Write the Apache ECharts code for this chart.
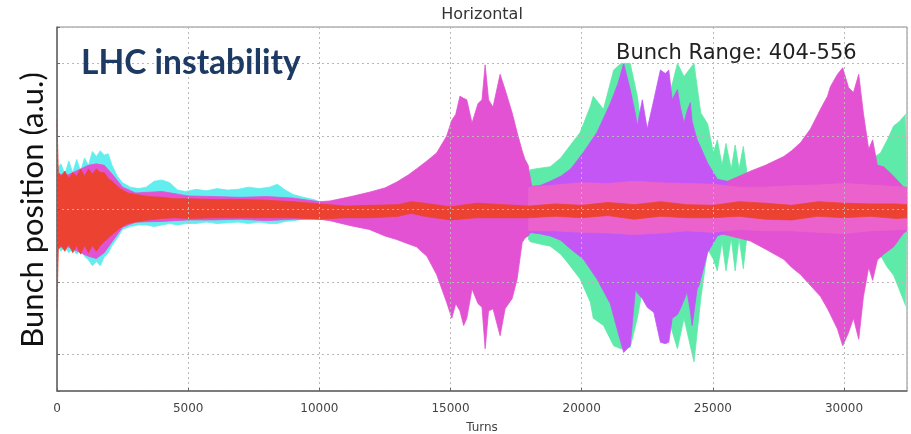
<!DOCTYPE html>
<html>
<head>
<meta charset="utf-8">
<script src="https://cdn.jsdelivr.net/npm/echarts@6/dist/echarts.min.js"></script>
<style>html,body{margin:0;padding:0;background:#fff;}#chart{width:911px;height:434px;}</style>
</head>
<body>
<div id="chart"></div>
<script>
// ---- data (turns, envelope top/bottom in a.u.) ----
var xTicks = [0, 5000, 10000, 15000, 20000, 25000, 30000];

var cyanTurns = [0,150,300,450,600,750,900,1050,1200,1350,1500,1650,1800,1950,2100,2300,2500,2800,3100,3400,3700,4000,4300,4600,4900,5300,5700,6100,6500,6900,7300,7700,8100,8400,8700,9000,9400,9800,10000];
var cyanTop = [0.55,0.62,0.48,0.66,0.5,0.68,0.52,0.7,0.6,0.79,0.72,0.8,0.74,0.76,0.6,0.45,0.36,0.3,0.28,0.3,0.38,0.4,0.36,0.26,0.24,0.27,0.25,0.28,0.26,0.27,0.3,0.28,0.3,0.34,0.26,0.2,0.16,0.13,0.1];
var cyanBot = [-0.5,-0.58,-0.52,-0.6,-0.55,-0.62,-0.56,-0.65,-0.7,-0.78,-0.72,-0.78,-0.66,-0.6,-0.5,-0.4,-0.28,-0.24,-0.22,-0.22,-0.24,-0.22,-0.2,-0.22,-0.2,-0.2,-0.18,-0.2,-0.19,-0.18,-0.2,-0.18,-0.2,-0.2,-0.17,-0.16,-0.14,-0.13,-0.1];

var greenTurns = [17960,18040,18400,18800,19200,19450,19940,20330,20440,20830,21220,21500,21850,22120,22370,22800,23300,23650,23900,24280,24540,24800,25020,25170,25350,25500,25700,25850,26000,26160,26300,26400,28000,30900,31100,31390,31650,31890,32100,32350,32400];
var greenTop = [0.31,0.54,0.56,0.58,0.7,0.82,1.05,1.41,1.55,1.37,1.91,2.0,2.0,1.55,0.9,0.9,1.5,2.0,1.82,2.0,1.32,1.17,0.77,0.95,0.6,0.9,0.55,0.88,0.55,0.86,0.5,0.45,null,0.6,0.7,0.77,0.95,1.14,1.2,1.3,1.3];
var greenBot = [-0.41,-0.45,-0.48,-0.51,-0.62,-0.73,-0.96,-1.28,-1.5,-1.6,-1.88,-1.92,-1.9,-1.5,-1.0,-1.0,-1.5,-1.92,-1.5,-2.1,-1.23,-0.55,-0.69,-0.85,-0.45,-0.85,-0.4,-0.85,-0.4,-0.82,-0.37,-0.35,null,-0.5,-0.58,-0.64,-0.8,-0.91,-1.1,-1.33,-1.35];

var magentaTurns = [0,300,600,900,1200,1500,1800,2100,2500,3000,4000,5000,6000,7000,8000,9000,10000,10400,11200,11900,12500,12950,13400,13700,14100,14470,14850,15050,15200,15360,15500,15620,15820,16050,16200,16320,16450,16620,16890,17080,17350,17540,17730,17840,17960,18100,21000,25300,25550,26000,26430,27000,27700,28000,28340,28720,29100,29370,29480,29750,29950,30170,30360,30560,30740,30940,31090,31270,31510,31890,32270,32400];
var magentaTop = [0.5,0.45,0.5,0.55,0.6,0.62,0.6,0.48,0.3,0.22,0.24,0.18,0.17,0.16,0.17,0.15,0.1,0.11,0.17,0.23,0.29,0.37,0.47,0.55,0.66,0.77,1.0,1.22,1.3,1.55,1.52,1.5,1.18,1.45,1.5,1.98,1.5,1.4,1.85,1.64,1.32,1.05,0.8,0.68,0.6,0.3,0.3,0.36,0.38,0.45,0.52,0.6,0.72,0.8,0.91,1.1,1.37,1.55,1.68,1.85,1.94,1.67,1.6,1.85,1.31,0.82,0.95,0.6,0.58,0.45,0.3,0.28];
var magentaBot = [-0.55,-0.5,-0.55,-0.6,-0.65,-0.68,-0.6,-0.45,-0.25,-0.18,-0.17,-0.15,-0.15,-0.14,-0.16,-0.14,-0.14,-0.16,-0.23,-0.28,-0.37,-0.42,-0.48,-0.52,-0.65,-0.9,-1.28,-1.5,-1.3,-1.4,-1.6,-1.5,-1.1,-1.3,-1.35,-1.92,-1.4,-1.37,-1.74,-1.37,-1.23,-0.96,-0.46,-0.4,-0.37,-0.3,-0.3,-0.34,-0.36,-0.4,-0.44,-0.55,-0.69,-0.8,-0.9,-1.05,-1.2,-1.37,-1.45,-1.65,-1.88,-1.7,-1.5,-1.79,-1.2,-0.8,-0.98,-0.7,-0.62,-0.52,-0.33,-0.3];

var purpleTurns = [17960,18400,18800,19200,19580,20070,20580,21090,21390,21600,21850,22050,22120,22310,22500,22750,23000,23190,23320,23450,23650,23760,23900,24020,24140,24210,24400,24470,24800,25170,25550];
var purpleTop = [0.31,0.32,0.38,0.45,0.55,0.78,1.05,1.45,1.73,2.0,1.64,1.3,1.14,1.5,1.1,1.5,1.91,1.86,1.91,1.5,1.64,1.4,1.18,1.35,1.46,1.2,0.95,0.9,0.63,0.41,0.38];
var purpleBot = [-0.32,-0.34,-0.37,-0.43,-0.55,-0.69,-0.96,-1.3,-1.7,-1.97,-1.88,-1.1,-1.15,-1.23,-1.35,-1.42,-1.83,-1.85,-1.83,-1.5,-1.45,-1.37,-1.25,-1.14,-1.4,-1.6,-1.1,-1.05,-0.6,-0.37,-0.32];

var pinkTurns = [17960,19000,20000,21000,22000,23000,24000,25000,26000,27000,28000,29000,30000,31000,32400];
var pinkTop = [0.3,0.33,0.36,0.35,0.38,0.36,0.35,0.34,0.3,0.3,0.32,0.33,0.35,0.33,0.3];
var pinkBot = [-0.3,-0.3,-0.32,-0.33,-0.35,-0.33,-0.3,-0.32,-0.28,-0.3,-0.3,-0.32,-0.34,-0.3,-0.28];

var redTurns = [0,50,150,300,450,600,750,900,1050,1200,1350,1500,1650,1800,1950,2100,2400,2700,3000,3500,4000,4500,5000,6000,7000,8000,9000,10000,11000,12000,13000,13500,14000,15000,16000,17000,18000,19000,20000,21000,22000,23000,24000,25000,26000,27000,28000,29000,30000,31000,32000,32400];
var redTop = [1.23,0.5,0.45,0.52,0.42,0.5,0.45,0.55,0.45,0.55,0.48,0.55,0.5,0.5,0.42,0.38,0.28,0.22,0.2,0.17,0.16,0.14,0.14,0.13,0.13,0.12,0.1,0.07,0.04,0.05,0.06,0.1,0.08,0.03,0.08,0.06,0.04,0.07,0.05,0.09,0.06,0.1,0.06,0.05,0.1,0.08,0.05,0.1,0.08,0.07,0.07,0.06];
var redBot = [-1.37,-0.55,-0.5,-0.58,-0.48,-0.6,-0.5,-0.62,-0.5,-0.6,-0.5,-0.58,-0.5,-0.45,-0.4,-0.35,-0.26,-0.2,-0.18,-0.15,-0.13,-0.12,-0.13,-0.12,-0.12,-0.12,-0.12,-0.14,-0.12,-0.12,-0.1,-0.06,-0.1,-0.15,-0.12,-0.12,-0.12,-0.1,-0.12,-0.09,-0.14,-0.1,-0.12,-0.12,-0.1,-0.14,-0.15,-0.1,-0.12,-0.1,-0.13,-0.12];

// ---- build ----
function pairs(xs, ys) { return xs.map(function (x, i) { return [x, ys[i] === null ? '-' : ys[i]]; }); }
var layer = 0;
function band(name, xs, top, bot, color) {
  layer += 1;
  var common = {
    type: 'line', name: name, z: 2 + layer, showSymbol: false, symbol: 'none', smooth: false,
    lineStyle: { width: 0.8, color: color }, areaStyle: { color: color, opacity: 1 },
    itemStyle: { color: color }, silent: true, animation: false, connectNulls: false
  };
  return [
    Object.assign({}, common, { data: pairs(xs, top) }),
    Object.assign({}, common, { data: pairs(xs, bot) })
  ];
}

var series = [].concat(
  band('cyan', cyanTurns, cyanTop, cyanBot, '#62eeee'),
  band('green', greenTurns, greenTop, greenBot, '#5eeaa8'),
  band('magenta', magentaTurns, magentaTop, magentaBot, '#e252d2'),
  band('purple', purpleTurns, purpleTop, purpleBot, '#c456f6'),
  band('pink', pinkTurns, pinkTop, pinkBot, '#ec62cc'),
  band('red', redTurns, redTop, redBot, '#ec4232')
);

var chart = echarts.init(document.getElementById('chart'), null, { renderer: 'canvas' });
chart.setOption({
  animation: false,
  backgroundColor: '#ffffff',
  grid: { left: 57, right: 4, top: 27, bottom: 43, outerBoundsMode: 'none', containLabel: false,
    show: true, borderColor: '#8a8a8a', borderWidth: 1, backgroundColor: 'transparent' },
  xAxis: {
    type: 'value', min: 0, max: 32400, interval: 5000, z: 20,
    axisLine: { show: true, onZero: false, lineStyle: { color: '#666', width: 1.5 } },
    axisTick: { show: true, inside: true, length: 3, lineStyle: { color: '#666' } },
    axisLabel: { show: true, showMaxLabel: false, margin: 12, color: '#444', fontFamily: 'DejaVu Sans', fontSize: 12,
      formatter: function (v) { return xTicks.indexOf(v) >= 0 ? String(v) : ''; } },
    splitLine: { show: true, lineStyle: { color: '#b8b8b8', type: [2, 3], width: 1 } },
    name: 'Turns', nameLocation: 'middle', nameGap: 31,
    nameTextStyle: { color: '#444', fontFamily: 'DejaVu Sans', fontSize: 12 }
  },
  yAxis: {
    type: 'value', min: -2.5, max: 2.5, splitNumber: 5, z: 20,
    axisLine: { show: true, onZero: false, lineStyle: { color: '#666', width: 1.5 } },
    axisTick: { show: true, inside: true, length: 3, lineStyle: { color: '#666' } },
    axisLabel: { show: false },
    splitLine: { show: true, lineStyle: { color: '#b8b8b8', type: [2, 3], width: 1 } }
  },
  graphic: [
    { type: 'text', x: 482, y: 15, z: 100, style: { text: 'Horizontal', fill: '#333', font: '16px "DejaVu Sans"', align: 'center', verticalAlign: 'middle' } },
    { type: 'text', x: 81, y: 63, z: 100, style: { text: 'LHC instability', fill: '#1c3a63', font: 'bold 33.5px Lato', align: 'left', verticalAlign: 'middle' } },
    { type: 'text', x: 616, y: 54, z: 100, style: { text: 'Bunch Range: 404-556', fill: '#222', font: '21px "DejaVu Sans"', align: 'left', verticalAlign: 'middle' } },
    { type: 'text', x: 33, y: 210, rotation: Math.PI / 2, z: 100, style: { text: 'Bunch position (a.u.)', fill: '#111', font: '31px Lato', align: 'center', verticalAlign: 'middle' } }
  ],
  series: series
});
</script>
</body>
</html>
